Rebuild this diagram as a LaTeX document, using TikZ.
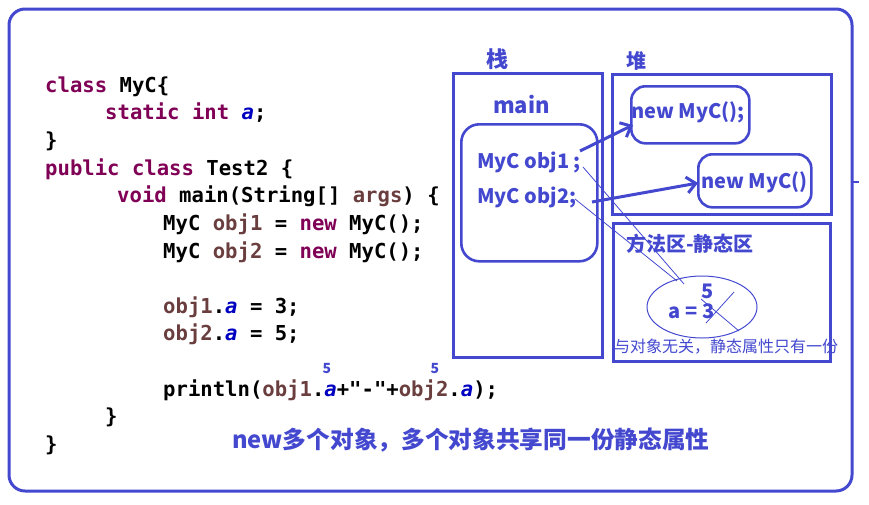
\documentclass[tikz,border=0pt]{standalone}
\usepackage{fontspec}
\usetikzlibrary{arrows.meta,shapes.geometric}
\newfontfamily\codefont{DejaVu Sans Mono}
\newfontfamily\cjk{Noto Sans CJK SC}
\definecolor{kwc}{HTML}{7F0055}
\definecolor{varc}{HTML}{6A3E3E}
\definecolor{fldc}{HTML}{0000C0}
\definecolor{blu}{HTML}{4348CF}
\newcommand\KW[1]{\textcolor{kwc}{#1}}
\newcommand\VR[1]{\textcolor{varc}{#1}}
\newcommand\FD[1]{\textcolor{fldc}{\itshape #1}}
\newcommand\fs[1]{\fontsize{#1}{#1}\selectfont}
\begin{document}
\begin{tikzpicture}[x=1pt,y=-1pt,
  code/.style={anchor=base west,inner sep=0pt,font=\codefont\bfseries\fs{20.6}},
  lbl/.style={inner sep=0pt,text=blu,font=\cjk\bfseries\fs{#1}},
  lbl/.default=18,
  thickbox/.style={draw=blu,line width=3pt},
  rbox/.style={draw=blu,line width=2.6pt,rounded corners=#1},
  thin/.style={draw=blu,line width=0.8pt},
  arr/.style={draw=blu,line width=3pt,-{Straight Barb[length=9pt,width=16pt,line width=3pt]}}]
\useasboundingbox (0,0) rectangle (869,504);
% outer frame
\draw[draw=blu,line width=3pt,rounded corners=16] (9,9) rectangle (852,491);
\coordinate (tk1) at (852,182); \coordinate (tk2) at (859,182);
\draw[draw=blu,line width=2.5pt] (tk1) -- (tk2);
% code
\node[code] (c1) at (45,92) {\KW{class} MyC\{};
\node[code] (c2) at (105,119.6) {\KW{static} \KW{int} \FD{a};};
\node[code] (c3) at (45,147) {\}};
\node[code] (c4) at (45,175) {\KW{public} \KW{class} Test2 \{};
\node[code] (c5) at (117,202) {\KW{void} main(String[] \VR{args}) \{};
\node[code] (c6) at (163,230) {MyC \VR{obj1} = \KW{new} MyC();};
\node[code] (c7) at (163,258) {MyC \VR{obj2} = \KW{new} MyC();};
\node[code] (c8) at (163,313) {\VR{obj1}.\FD{a} = 3;};
\node[code] (c9) at (163,340) {\VR{obj2}.\FD{a} = 5;};
\node[code] (c10) at (163,396) {println(\VR{obj1}.\FD{a}+"-"+\VR{obj2}.\FD{a});};
\node[code] (c11) at (105,423) {\}};
\node[code] (c12) at (45,451) {\}};
\node[lbl=14,anchor=base] (s1) at (327,373) {5};
\node[lbl=14,anchor=base] (s2) at (435,373) {5};
% bottom caption
\node[lbl=23.7,anchor=west] (cap) at (232,440) {new多个对象，多个对象共享同一份静态属性};
% stack
\node[lbl=22] (zh) at (497,59) {栈};
\node[thickbox,minimum width=149pt,minimum height=284pt,inner sep=0pt,anchor=north west] (stack) at (452,72) {};
\node[lbl=22,anchor=base west] (main) at (493,113) {main};
\node[rbox=18,minimum width=136pt,minimum height=137pt,inner sep=0pt,anchor=north west] (frame) at (460,123) {};
\node[lbl=20,anchor=base west] (o1) at (477,168) {MyC obj1 ;};
\node[lbl=20,anchor=base west] (o2) at (477,203) {MyC obj2;};
% heap
\node[lbl=20] (dui) at (636,61) {堆};
\node[thickbox,minimum width=219pt,minimum height=140pt,inner sep=0pt,anchor=north west] (heap) at (611,73) {};
\node[rbox=14,minimum width=118pt,minimum height=57pt,inner sep=0pt,anchor=north west] (n1) at (630,85) {};
\node[lbl=20,anchor=base west] (n1t) at (631,118) {new MyC();};
\node[rbox=14,minimum width=113pt,minimum height=53pt,inner sep=0pt,anchor=north west] (n2) at (697,153) {};
\node[lbl=20,anchor=base west] (n2t) at (701,188) {new MyC()};
% method area
\node[thickbox,minimum width=217pt,minimum height=138pt,inner sep=0pt,anchor=north west] (meth) at (612,222) {};
\node[lbl=20,anchor=west] (mt) at (626,244) {方法区-静态区};
\node[ellipse,draw=blu,line width=1pt,minimum width=110pt,minimum height=62pt,inner sep=0pt] (ell) at (702,307) {};
\node[lbl=20,anchor=base west] (av) at (668,318) {a\hspace{5pt}=\hspace{5pt}3};
\node[lbl=20,anchor=base] (five) at (708,298) {5};
\node[lbl=16,anchor=base west,font=\cjk\fs{16}] (note) at (614,352) {与对象无关，静态属性只有一份};
% strike-out of 3
\coordinate (k1) at (701,299); \coordinate (k2) at (739,331);
\coordinate (k3) at (734,292); \coordinate (k4) at (706,323);
\draw[thin] (k1) -- (k2);
\draw[thin] (k3) -- (k4);
% thin lines to static
\coordinate (l1s) at (583,167); \coordinate (l1e) at (684,284);
\coordinate (l2s) at (575,199); \coordinate (l2e) at (677,281);
\draw[thin] (l1s) -- (l1e);
\draw[thin] (l2s) -- (l2e);
% arrows
\coordinate (a1s) at (580,151); \coordinate (a1e) at (633,125);
\coordinate (a2s) at (592,202); \coordinate (a2e) at (698,183);
\draw[arr] (a1s) -- (a1e);
\draw[arr] (a2s) -- (a2e);
\end{tikzpicture}
\end{document}
